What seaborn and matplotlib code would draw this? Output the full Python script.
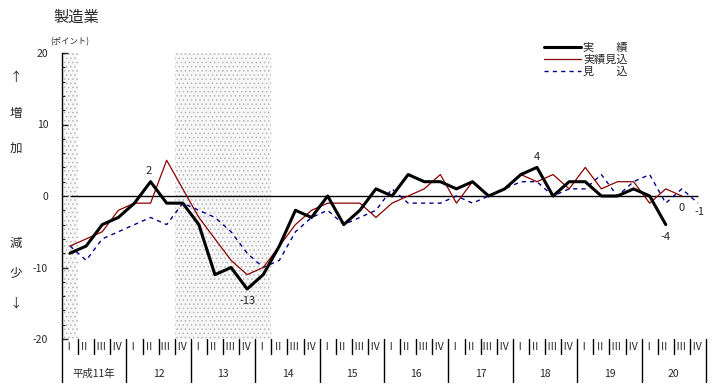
import matplotlib
matplotlib.use("Agg")
import matplotlib.pyplot as plt
import seaborn as sns
import pandas as pd

# quarterly data, 平成11年 I .. 平成20年 IV
years = ["平成11年", "12", "13", "14", "15", "16", "17", "18", "19", "20"]
quarters = ["Ⅰ", "Ⅱ", "Ⅲ", "Ⅳ"]

actual = [-8, -7, -4, -3, -1, 2, -1, -1, -4, -11, -10, -13, -11, -7, -2, -3,
          0, -4, -2, 1, 0, 3, 2, 2, 1, 2, 0, 1, 3, 4, 0, 2, 2, 0, 0, 1, 0, -4]
estimate = [-7, -6, -5, -2, -1, -1, 5, 1, -3, -6, -9, -11, -10, -7, -4, -2,
            -1, -1, -1, -3, -1, 0, 1, 3, -1, 2, 0, 1, 3, 2, 3, 1, 4, 1, 2, 2, -1, 1, 0]
forecast = [-7, -9, -6, -5, -4, -3, -4, -1, -2, -3, -5, -8, -10, -9, -5, -3,
            -2, -4, -3, -2, 1, -1, -1, -1, 0, -1, 0, 1, 2, 2, 0, 1, 1, 3, 0, 2, 3, -1, 1, -1]

# recession shading (quarter index ranges)
shaded = [(0, 0), (7, 12)]

sns.set_style("white")
plt.rcParams["font.family"] = ["Noto Sans CJK JP", "DejaVu Sans"]
plt.rcParams["hatch.linewidth"] = 0.6

W, H = 713, 387
fig = plt.figure(figsize=(W / 100, H / 100), dpi=100)
ax = fig.add_axes([62 / W, 48 / H, 644 / W, 286 / H])

n = len(years) * len(quarters)
for a, b in shaded:
    ax.axvspan(a - 0.5, b + 0.5, facecolor="#f7f7f7", edgecolor="#b8b8b8", hatch="....",
               lw=0, zorder=0)

ax.hlines(0, 0, n - 1, color="black", lw=1.0, zorder=1)

df_a = pd.DataFrame({"q": range(len(actual)), "v": actual})
df_e = pd.DataFrame({"q": range(len(estimate)), "v": estimate})
df_f = pd.DataFrame({"q": range(len(forecast)), "v": forecast})

sns.lineplot(data=df_a, x="q", y="v", color="black", lw=2.2, ax=ax, zorder=4,
             label="実　　績")
sns.lineplot(data=df_e, x="q", y="v", color="#8b0000", lw=0.9, ax=ax, zorder=3,
             label="実績見込")
sns.lineplot(data=df_f, x="q", y="v", color="#00008b", lw=1.0, ax=ax, zorder=2,
             dashes=(3, 3), label="見　　込")

ax.set_xlim(-0.5, n - 0.5)
ax.set_ylim(-20, 20)
ax.set_xlabel("")
ax.set_ylabel("")
ax.set_xticks([])
ax.set_yticks([-20, -10, 0, 10, 20])
ax.set_yticklabels(["-20", "-10", "0", "10", "20"], fontsize=7.5)
ax.set_yticks(range(-20, 21, 2), minor=True)
ax.tick_params(axis="y", which="major", direction="in", length=4, width=1, pad=10, left=True)
ax.tick_params(axis="y", which="minor", direction="in", length=2, width=0.8, left=True)
for s in ["top", "right", "bottom"]:
    ax.spines[s].set_visible(False)
ax.spines["left"].set_color("black")
ax.spines["left"].set_linewidth(1.0)

# point labels
lab = dict(fontsize=8, ha="center", textcoords="offset points")
ax.annotate("2", (5, actual[5]), xytext=(-1, 4), va="bottom", **lab)
ax.annotate("-13", (11, actual[11]), xytext=(0, -5), va="top", **lab)
ax.annotate("4", (29, actual[29]), xytext=(0, 4), va="bottom", **lab)
ax.annotate("-4", (37, actual[37]), xytext=(0, -5), va="top", **lab)
ax.annotate("0", (38, estimate[38]), xytext=(0, -5), va="top", **lab)
ax.annotate("-1", (39, forecast[39]), xytext=(1, -3), va="top", **lab)

# category table below the plot
tr = ax.get_xaxis_transform()
q_bot, y_bot = -15 / 286, -43 / 286
for i in range(n + 1):
    low = y_bot if i % 4 == 0 else q_bot
    ax.plot([i - 0.5, i - 0.5], [0, low], color="black", lw=1, transform=tr, clip_on=False)
for i in range(n):
    ax.text(i - 0.1, -8 / 286, quarters[i % 4], transform=tr, ha="center", va="center",
            fontsize=7.5)
for k, y in enumerate(years):
    ax.text(4 * k + 1.5, -35 / 286, y, transform=tr, ha="center", va="center", fontsize=7.5)

# legend
leg = fig.legend(loc="upper left", bbox_to_anchor=(540 / W, 1 - 38 / H), frameon=False,
                 fontsize=8, handlelength=3.3, handletextpad=0.2, labelspacing=0.15,
                 borderaxespad=0)
ax.get_legend().remove()

# titles and side text
fig.text(53 / W, 1 - 17 / H, "製造業", fontsize=11, va="center", ha="left")
fig.text(50 / W, 1 - 42 / H, "(ポイント)", fontsize=6, va="center", ha="left")
for y, t in [(78, "↑"), (113, "増"), (148, "加"), (243, "減"), (273, "少"), (303, "↓")]:
    fig.text(16 / W, 1 - y / H, t, fontsize=9, va="center", ha="center")

fig.savefig("out.png", dpi=100)
